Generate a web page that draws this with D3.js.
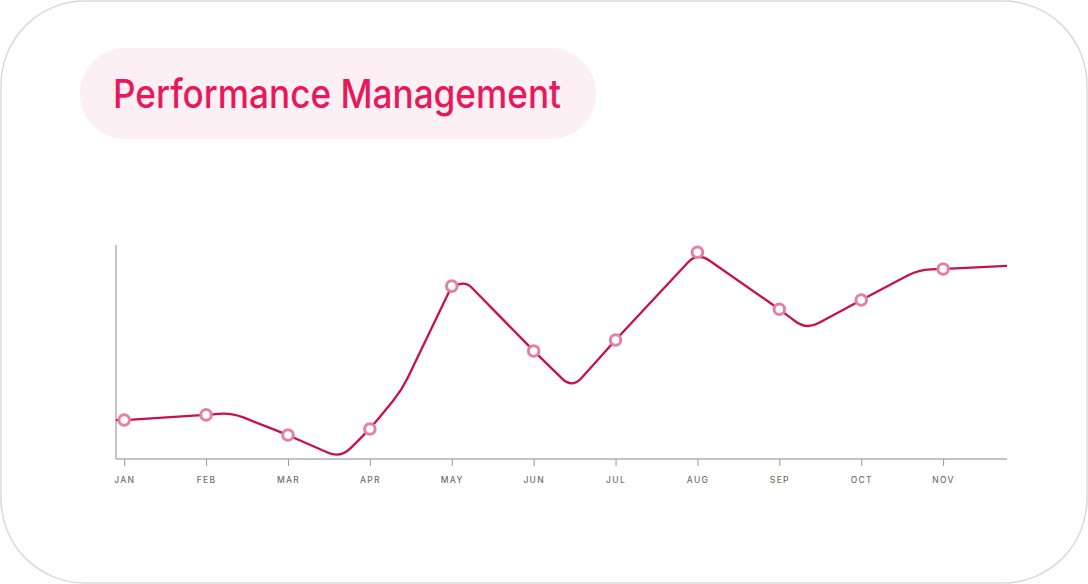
<!DOCTYPE html>
<html><head><meta charset="utf-8">
<script src="https://cdn.jsdelivr.net/npm/d3@7"></script>
<style>html,body{margin:0;padding:0;background:#fff;}svg{display:block;}</style>
</head><body>
<svg id="c" width="1088" height="584"></svg>
<script>
const title = "Performance Management";
const months = ["JAN","FEB","MAR","APR","MAY","JUN","JUL","AUG","SEP","OCT","NOV"];
const monthValues = [18.2, 20.6, 11.2, 14.0, 80.8, 50.5, 55.6, 96.6, 70.0, 74.3, 88.8];
// line path points: [month position, value]
const linePos =    [-0.1, 0, 1, 1.31, 2, 2.64, 3, 3.39, 4, 4.18, 5, 5.47, 6, 7, 8, 8.33, 9, 9.7, 10, 10.78];
const lineValues = [18.2, 18.2, 20.6, 21.6, 11.2, 0.4, 14.0, 32.2, 80.8, 82.6, 50.5, 33.0, 55.6, 96.6, 70.0, 60.4, 74.3, 88.4, 88.8, 90.2];

const svg = d3.select("#c");
svg.append("rect").attr("x",1).attr("y",1).attr("width",1086).attr("height",582)
  .attr("rx",84).attr("ry",84).attr("fill","#fff").attr("stroke","#d9d9d9").attr("stroke-width",1.5);

svg.append("rect").attr("x",80).attr("y",48).attr("width",516).attr("height",91)
  .attr("rx",45.5).attr("fill","#fdf0f4");
svg.append("text").attr("x",113).attr("y",108).attr("fill","#e8185a")
  .attr("font-family","Inter, 'Noto Sans', sans-serif").attr("font-size",39).attr("font-weight",450)
  .attr("textLength",448).attr("lengthAdjust","spacingAndGlyphs").text(title);

const x = d3.scaleLinear().domain([-0.1, 10.78]).range([116, 1007]);
const y = d3.scaleLinear().domain([0, 100]).range([459, 245]);

// axes
svg.append("line").attr("x1",116).attr("x2",116).attr("y1",y(100)).attr("y2",y(0)).attr("stroke","#888").attr("stroke-width",1);
const xAxis = d3.axisBottom(x).tickValues(d3.range(months.length)).tickFormat(i=>months[i]).tickSize(7).tickPadding(11);
const gx = svg.append("g").attr("transform",`translate(0,${y(0)})`).call(xAxis);
gx.select(".domain").attr("stroke","#888").attr("d",`M${x.range()[0]},0H${x.range()[1]}`);
gx.selectAll(".tick line").attr("stroke","#999");
gx.selectAll(".tick text").attr("fill","#707070").attr("font-family","Inter, 'Noto Sans', sans-serif")
  .attr("font-size",8.5).attr("font-weight",500).attr("letter-spacing",1.3);

// rounded corner curve
function RoundCurve(context, r){ this._c = context; this._r = r; }
RoundCurve.prototype = {
  areaStart(){}, areaEnd(){},
  lineStart(){ this._p = []; },
  point(px,py){ this._p.push([+px,+py]); },
  lineEnd(){
    const p = this._p, c = this._c, r = this._r;
    if(!p.length) return;
    c.moveTo(p[0][0],p[0][1]);
    for(let i=1;i<p.length-1;i++){
      const a=p[i-1], b=p[i], n=p[i+1];
      const d1=Math.hypot(b[0]-a[0],b[1]-a[1]), d2=Math.hypot(n[0]-b[0],n[1]-b[1]);
      const rr=Math.min(r,d1/2,d2/2);
      const s=[b[0]+(a[0]-b[0])*rr/d1, b[1]+(a[1]-b[1])*rr/d1];
      const e=[b[0]+(n[0]-b[0])*rr/d2, b[1]+(n[1]-b[1])*rr/d2];
      c.lineTo(s[0],s[1]);
      c.quadraticCurveTo(b[0],b[1],e[0],e[1]);
    }
    c.lineTo(p[p.length-1][0],p[p.length-1][1]);
  }
};
const roundCurve = ctx => new RoundCurve(ctx, 14);

const pts = linePos.map((p,i)=>[p, lineValues[i]]);
svg.append("path").datum(pts)
  .attr("d", d3.line().x(d=>x(d[0])).y(d=>y(d[1])).curve(roundCurve))
  .attr("fill","none").attr("stroke","#c8104a").attr("stroke-width",2.3).attr("stroke-linejoin","round");

svg.append("g").selectAll("circle").data(months).join("circle")
  .attr("cx",(d,i)=>x(i)).attr("cy",(d,i)=>y(monthValues[i])).attr("r",5.3)
  .attr("fill","#fff").attr("stroke","#e282a1").attr("stroke-width",3);
</script>
</body></html>
